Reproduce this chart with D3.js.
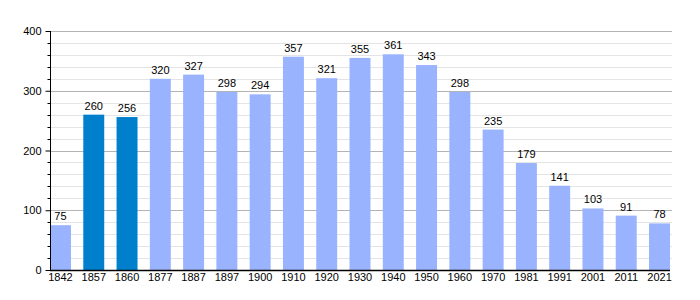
<!DOCTYPE html>
<html>
<head>
<meta charset="utf-8">
<script src="https://cdn.jsdelivr.net/npm/d3@7"></script>
<style>
  body { margin: 0; background: #fff; }
  text { font-family: "Liberation Sans", Arial, sans-serif; }
</style>
</head>
<body>
<div class="chart"></div>
<script>
const years = ["1842", "1857", "1860", "1877", "1887", "1897", "1900", "1910", "1920", "1930",
  "1940", "1950", "1960", "1970", "1981", "1991", "2001", "2011", "2021"];
const population = [75, 260, 256, 320, 327, 298, 294, 357, 321, 355, 361, 343, 298, 235, 179, 141, 103, 91, 78];
const highlighted = ["1857", "1860"];
const majorTicks = [0, 100, 200, 300, 400];

let width = 700,
  height = 300;

let svg = d3
  .select(".chart")
  .append("svg")
  .attr("width", width)
  .attr("height", height);

let x = d3.scaleBand().domain(years).range([50, 670]).paddingInner(0.37).paddingOuter(0);
let y = d3.scaleLinear().domain([0, 400]).range([270, 31]);

// minor grid every 20
let minor = d3.range(0, 401, 20).filter((d) => d % 100 !== 0);
svg
  .selectAll(".minor")
  .data(minor)
  .enter()
  .append("line")
  .attr("x1", 50)
  .attr("x2", 672)
  .attr("y1", (d) => Math.round(y(d)) + 0.5)
  .attr("y2", (d) => Math.round(y(d)) + 0.5)
  .attr("stroke", "#e4e4e4");

svg
  .selectAll(".major")
  .data(majorTicks.slice(1))
  .enter()
  .append("line")
  .attr("x1", 50)
  .attr("x2", 672)
  .attr("y1", (d) => Math.round(y(d)) + 0.5)
  .attr("y2", (d) => Math.round(y(d)) + 0.5)
  .attr("stroke", "#b4b4b4");

// bars
svg
  .selectAll(".bar")
  .data(population)
  .enter()
  .append("rect")
  .attr("x", (d, i) => x(years[i]))
  .attr("y", (d) => y(d))
  .attr("width", x.bandwidth())
  .attr("height", (d) => y(0) - y(d))
  .attr("fill", (d, i) => (highlighted.includes(years[i]) ? "#0080cc" : "#99b3ff"));

svg
  .selectAll(".val")
  .data(population)
  .enter()
  .append("text")
  .attr("x", (d, i) => x(years[i]) + x.bandwidth() / 2)
  .attr("y", (d) => y(d) - 5)
  .attr("text-anchor", "middle")
  .attr("font-size", 11)
  .attr("fill", "#000")
  .text((d) => d);

// y axis
let yAxis = d3.axisLeft(y).tickValues(majorTicks).tickSize(5).tickPadding(4);
let yg = svg.append("g").attr("transform", "translate(50.5,0)").call(yAxis);
yg.select(".domain").attr("d", "M0," + y(400) + "V" + (y(0) + 0.5));
yg.selectAll("text").attr("font-size", 11).attr("font-family", "Liberation Sans, Arial, sans-serif");

svg
  .append("g")
  .selectAll("line")
  .data(minor)
  .enter()
  .append("line")
  .attr("x1", 47.5)
  .attr("x2", 50.5)
  .attr("y1", (d) => Math.round(y(d)) + 0.5)
  .attr("y2", (d) => Math.round(y(d)) + 0.5)
  .attr("stroke", "#000");

// x axis
let xAxis = d3.axisBottom(x).tickSize(0).tickPadding(3);
let xg = svg.append("g").attr("transform", "translate(0,270.5)").call(xAxis);
xg.select(".domain").attr("d", "M50,0H670").attr("stroke-width", 1.5);
xg.selectAll("text").attr("font-size", 11).attr("font-family", "Liberation Sans, Arial, sans-serif");
</script>
</body>
</html>
